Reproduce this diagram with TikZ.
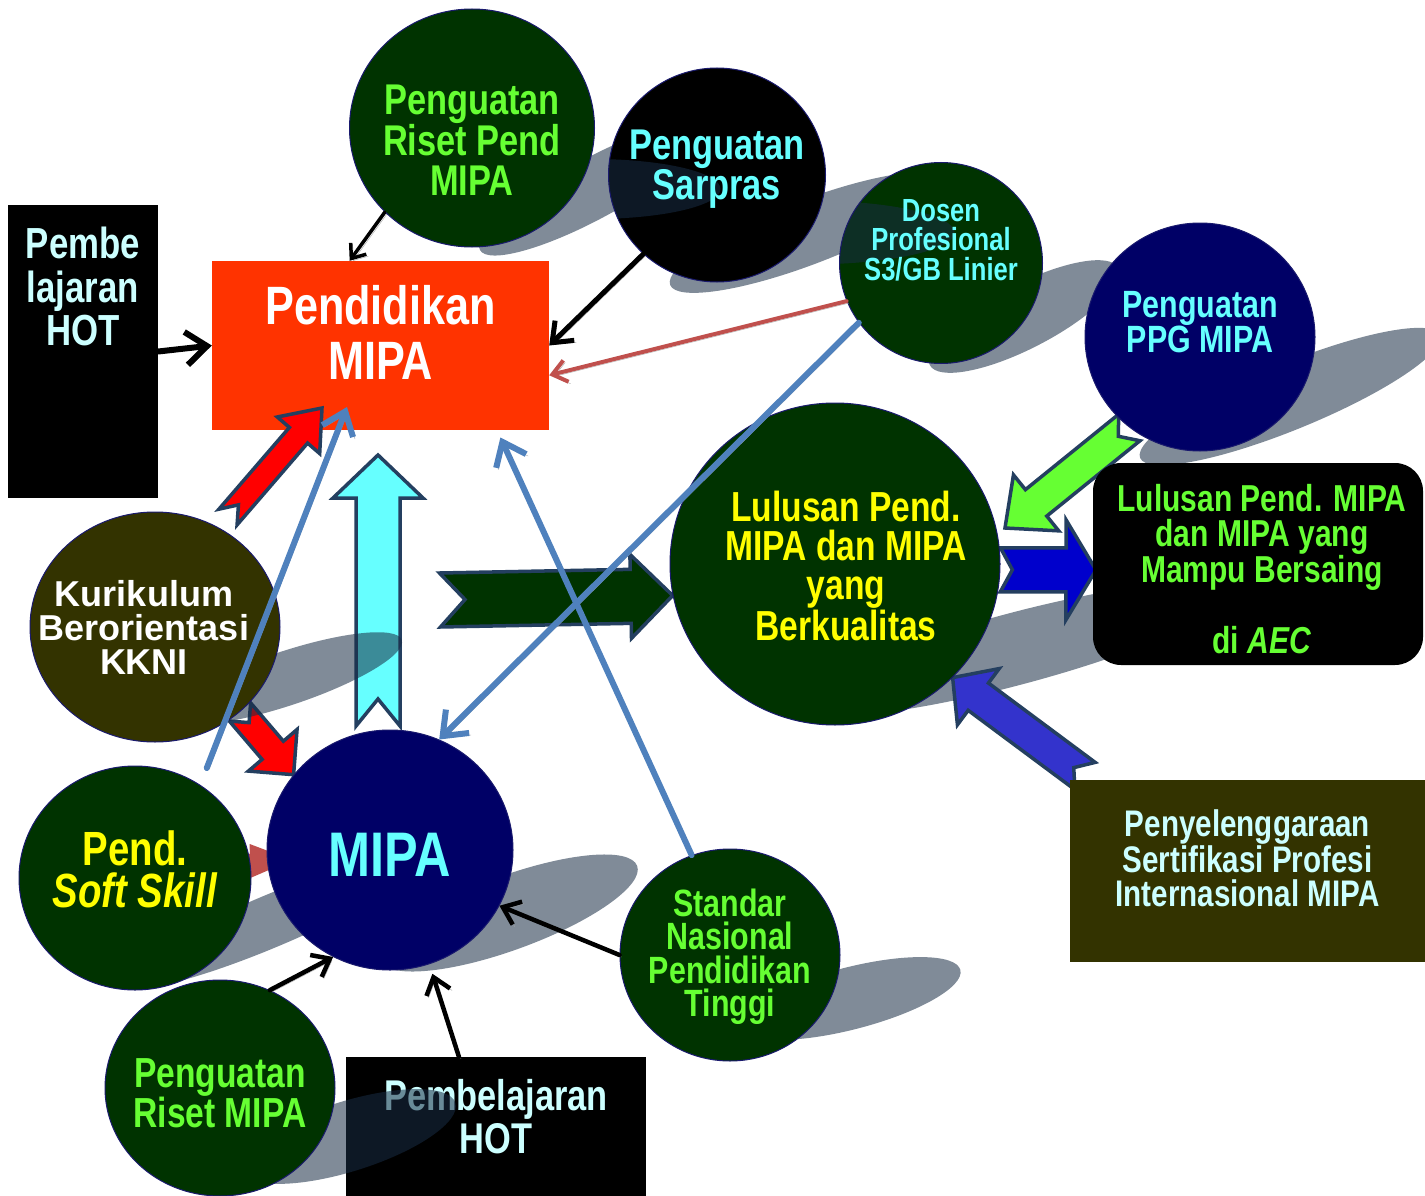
\documentclass[tikz,border=0pt]{standalone}
\usepackage{fontspec}
\setmainfont{Liberation Sans}
\newfontfamily\narrowsf{Liberation Sans}[FakeStretch=0.8]
\usetikzlibrary{shapes.geometric, arrows.meta, calc, backgrounds}

\definecolor{pendred}{HTML}{FF3300}
\definecolor{dkgreen}{HTML}{003300}
\definecolor{navyblue}{HTML}{000066}
\definecolor{olive}{HTML}{333300}
\definecolor{txtgreen}{HTML}{66FF33}
\definecolor{txtcyan}{HTML}{66FFFF}
\definecolor{palecyan}{HTML}{CCFFFF}
\definecolor{txtyellow}{HTML}{FFFF00}
\definecolor{rimblue}{HTML}{1A1A6E}
\definecolor{shadowink}{RGB}{24,44,69}
\definecolor{fatline}{HTML}{243F60}
\definecolor{linkblue}{HTML}{4F81BD}
\definecolor{linkred}{HTML}{C0504D}
\definecolor{lineshade}{HTML}{A6A6A6}
\definecolor{aecblue}{HTML}{0000CC}
\definecolor{certblue}{HTML}{3333CC}

\newcommand{\fsz}[2]{\fontsize{#1}{#2}\selectfont}
% block arrow: [opts]{fill}{from}{to}{shaft half}{head half}{head length}{notch}
\newcommand{\fatarrow}[8][]{%
  \path[fatedge, fill=#2, #1] let \p1=($(#4)-(#3)$), \n1={atan2(\y1,\x1)}, \n2={veclen(\x1,\y1)} in
    ($(#3)+(\n1+90:#5pt)$) -- ($(#3)+(\n1:#8pt)$) -- ($(#3)+(\n1-90:#5pt)$)
    -- ($(#3)+(\n1:\n2-#7pt)+(\n1-90:#5pt)$) -- ($(#3)+(\n1:\n2-#7pt)+(\n1-90:#6pt)$)
    -- (#4)
    -- ($(#3)+(\n1:\n2-#7pt)+(\n1+90:#6pt)$) -- ($(#3)+(\n1:\n2-#7pt)+(\n1+90:#5pt)$) -- cycle;}
% cast shadow: {centre}{angle}{long radius}{short radius}
\newcommand{\dropshade}[4]{%
  \fill[castshadow, rotate around={#2:(#1)}] (#1) ellipse [x radius=#3, y radius=#4];}

\tikzset{
  bubble/.style={ellipse, draw=rimblue, line width=1pt, inner sep=0pt},
  panel/.style={rectangle, inner sep=0pt},
  words/.style={align=center, inner sep=0pt},
  link/.style={line cap=round, line join=round,
    -{Straight Barb[length=0pt 3.5, width=0pt 5.5]},
    preaction={draw=lineshade, transform canvas={shift={(2,2)}}}},
  fatedge/.style={draw=fatline, line width=3.5pt, line join=miter},
  castshadow/.style={fill=shadowink, fill opacity=0.55},
  % shadow of a neighbour falling on a bubble, under its text
  shadeon/.style args={#1/#2/#3/#4}{path picture={
    \begin{scope}[shift={(path picture bounding box.center)}]
      \dropshade{#1}{#2}{#3}{#4}
    \end{scope}}},
}

\begin{document}
\begin{tikzpicture}[x=1pt, y=-1pt]
  \useasboundingbox (0,0) rectangle (1425,1196);

  % boxes
  \node[panel, fill=black, minimum width=150pt, minimum height=293pt,
    label={[words, text=palecyan, font=\narrowsf\bfseries\fsz{43.5}{43.5}, yshift=65pt]center:{Pembe\\lajaran\\HOT}}] (pembe) at (83,351.5) {};
  \node[panel, fill=pendred, minimum width=337pt, minimum height=169pt,
    label={[words, text=white, font=\narrowsf\bfseries\fsz{54}{55}, yshift=13pt]center:{Pendidikan\\MIPA}}] (pendidikan) at (380.5,345.5) {};
  \node[panel, fill=black, rounded corners=28pt, minimum width=330pt, minimum height=202pt,
    label={[words, text=txtgreen, font=\narrowsf\bfseries\fsz{37.5}{34.5}, xshift=4pt, yshift=-5pt]center:{Lulusan Pend. MIPA\\dan MIPA yang\\Mampu Bersaing\\[34.5pt]di \textit{AEC}}}] (aec) at (1258,564) {};
  \node[panel, fill=olive, minimum width=355pt, minimum height=182pt,
    label={[words, text=palecyan, font=\narrowsf\bfseries\fsz{37}{33.5}, yshift=12.8pt]center:{Penyelenggaraan\\Sertifikasi Profesi\\Internasional MIPA}}] (sertifikasi) at (1247.5,871) {};

  % bubbles
  \node[bubble, fill=dkgreen, minimum width=245pt, minimum height=238pt,
    label={[words, text=txtgreen, font=\narrowsf\bfseries\fsz{43}{40}, yshift=-12pt]center:{Penguatan\\Riset Pend\\MIPA}}] (riset) at (472,128) {};
  \node[bubble, fill=black, minimum width=217pt, minimum height=214pt, shadeon={-124.5,14/28.5/128/30},
    label={[words, text=txtcyan, font=\narrowsf\bfseries\fsz{43}{40}, yshift=5.5pt]center:{Penguatan\\Sarpras}}] (sarpras) at (717,175) {};
  \node[bubble, fill=dkgreen, minimum width=203pt, minimum height=201pt, shadeon={-133.5,-30.5/20.9/147/32},
    label={[words, text=txtcyan, font=\narrowsf\bfseries\fsz{32}{29.5}, yshift=22.7pt]center:{Dosen\\Profesional\\S3/GB Linier}}] (dosen) at (941,263) {};
  \node[bubble, fill=navyblue, minimum width=230pt, minimum height=228pt,
    label={[words, text=txtcyan, font=\narrowsf\bfseries\fsz{38}{35}, yshift=14.5pt]center:{Penguatan\\PPG MIPA}}] (ppg) at (1200,337) {};
  \node[bubble, fill=dkgreen, minimum width=330pt, minimum height=322pt,
    label={[words, text=txtyellow, font=\narrowsf\bfseries\fsz{42}{39}, xshift=11pt, yshift=-2pt]center:{Lulusan Pend.\\MIPA dan MIPA\\yang\\Berkualitas}}] (lulusan) at (835,564) {};
  \node[bubble, fill=olive, minimum width=250pt, minimum height=230pt,
    label={[words, text=white, font=\bfseries\fsz{36}{34}, xshift=-11pt]center:{Kurikulum\\Berorientasi\\KKNI}}] (kkni) at (155,627) {};
  \node[bubble, fill=dkgreen, minimum width=232pt, minimum height=224pt,
    label={[words, text=txtyellow, font=\narrowsf\bfseries\fsz{48}{42}, yshift=9pt]center:{Pend.\\\textit{Soft Skill}}}] (softskill) at (135,878) {};
  \node[bubble, fill=navyblue, minimum width=246pt, minimum height=240pt,
    label={[words, text=txtcyan, font=\narrowsf\bfseries\fsz{63}{63}, yshift=-5pt]center:{MIPA}}] (mipa) at (390,850) {};
  \node[bubble, fill=dkgreen, minimum width=220pt, minimum height=212pt,
    label={[words, text=txtgreen, font=\narrowsf\bfseries\fsz{38}{33.5}, yshift=-2pt]center:{Standar\\Nasional\\Pendidikan\\Tinggi}}] (snpt) at (730,955) {};
  \node[panel, fill=black, minimum width=300pt, minimum height=139pt,
    label={[words, text=palecyan, font=\narrowsf\bfseries\fsz{43}{43}, yshift=10pt]center:{Pembelajaran\\HOT}}] (hotbox) at (496,1126.5) {};
  \dropshade{347.5,1136.5}{17.3}{113}{35}
  \node[bubble, fill=dkgreen, minimum width=230pt, minimum height=216pt,
    label={[words, text=txtgreen, font=\narrowsf\bfseries\fsz{42}{37}, yshift=-5.5pt]center:{Penguatan\\Riset MIPA}}] (rsmipa) at (220,1088) {};

  % free ends of the block arrows
  \coordinate (kkniTop) at (228,517);
  \coordinate (pendIn) at (322,408);
  \coordinate (cyanTail) at (378,726);
  \coordinate (cyanTip) at (378,455);
  \coordinate (greenTail) at (440,600);
  \coordinate (luaTip) at (1096,570);
  \coordinate (ppgTip) at (1005,528);
  \coordinate (certTail) at (1085,776);
  \coordinate (skillTail) at (205,862);
  \coordinate (skillTip) at (292,860);
  \coordinate (softTip) at (347,407);

  \begin{scope}[on background layer]
    \fill[white] (0,0) rectangle (1425,1196);
    \fatarrow{txtcyan}{cyanTail}{cyanTip}{22}{45}{43}{27}
    % shadows
    \dropshade{592.5,189}{28.5}{128}{30}
    \dropshade{807.5,232.5}{20.9}{147}{32}
    \dropshade{1024,316.5}{27.3}{106}{32}
    \dropshade{1290,396.5}{22.3}{162}{33}
    \dropshade{1015,649}{14.9}{222}{36}
    \fatarrow{red}{kkni.-45}{mipa.142}{14}{32}{32}{14}
    \dropshade{286,678.5}{18.4}{122}{27}
    \dropshade{270,921.5}{22.9}{163}{26}
    \dropshade{508.5,913}{20.1}{137}{37}
    \dropshade{850,998.5}{14.5}{114}{31}
    % block arrows behind the bubbles
    \fatarrow[draw=none]{linkred}{skillTail}{skillTip}{7}{17}{42}{0}
    \fatarrow{dkgreen}{greenTail}{lulusan.191}{27}{42}{42}{25}
    \fatarrow{aecblue}{lulusan.-2}{luaTip}{22}{50}{30}{12}
    \fatarrow{txtgreen}{ppg.232}{ppgTip}{17}{36}{40}{14}
    \fatarrow{certblue}{certTail}{lulusan.-44}{17}{35}{32}{14}
  \end{scope}

  \fatarrow{red}{kkniTop}{pendIn}{12}{28}{36}{16}

  % thin connectors
  \draw[link, black, line width=6pt] (pembe.east) -- (pendidikan.west);
  \draw[link, black, line width=3.5pt] (riset.224) -- (pendidikan.110);
  \draw[link, black, line width=5pt] (sarpras.227) -- (pendidikan.east);
  \draw[link, linkred, line width=4pt] (dosen.202) -- (pendidikan.-10);
  \draw[link, linkblue, line width=6pt] (dosen.216) -- (mipa.66);
  \draw[link, linkblue, line width=6pt, shorten >=8pt] (snpt.111) -- (pendidikan.-36);
  \draw[link, linkblue, line width=6pt, shorten <=18pt] (softskill.55) -- (softTip);
  \draw[link, black, line width=4.5pt] (rsmipa.63) -- (mipa.242);
  \draw[link, black, line width=4.5pt, shorten >=10pt] (hotbox.118) -- (mipa.-71);
  \draw[link, black, line width=4.5pt] (snpt.west) -- (mipa.-27);
\end{tikzpicture}
\end{document}
